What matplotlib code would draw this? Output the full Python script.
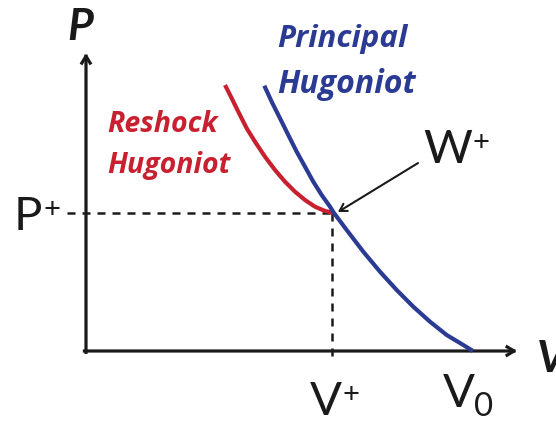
import matplotlib
matplotlib.use("Agg")
import matplotlib.pyplot as plt

# Hugoniot curves in normalised units (V / V0, P / P+)
principal_v = [0.4607, 0.4798, 0.5013, 0.5227, 0.5444, 0.5659, 0.5873, 0.6090,
               0.6305, 0.6408, 0.6736, 0.7165, 0.7597, 0.8028, 0.8457, 0.8889,
               0.9320, 0.9749, 1.0000]
principal_p = [1.9225, 1.8065, 1.6862, 1.5652, 1.4442, 1.3355, 1.2268, 1.1304,
               1.0457, 1.0000, 0.8768, 0.7196, 0.5746, 0.4420, 0.3210, 0.2123,
               0.1159, 0.0435, 0.0000]

reshock_v = [0.3592, 0.3765, 0.3935, 0.4152, 0.4367, 0.4625, 0.4884, 0.5142,
             0.5401, 0.5659, 0.5917, 0.6176, 0.6408]
reshock_p = [1.9275, 1.8312, 1.7341, 1.6138, 1.5167, 1.4080, 1.3116, 1.2268,
             1.1543, 1.0942, 1.0457, 1.0145, 1.0000]

# state W+ where the reshock starts
v_plus = 0.6408
p_plus = 1.000
v_zero = 1.000

BLUE = "#2B3A93"
RED = "#C8202F"
INK = "#1A1A1A"
FONT = "Lato"
NAME_FONT = "Open Sans"

fig = plt.figure(figsize=(5.56, 4.23), dpi=100)
ax = fig.add_axes([0, 0, 1, 1])
ax.set_xlim(-86 / 387, 470 / 387)
ax.set_ylim(-72 / 138, 351 / 138)
ax.axis("off")

# axes with open arrowheads
axis_arrow = dict(arrowstyle="->,head_length=0.5,head_width=0.3", lw=2.3,
                  color=INK, shrinkA=0, shrinkB=0, capstyle="projecting")
ax.annotate("", xy=(0, 2.159), xytext=(0, -0.01), arrowprops=axis_arrow,
            annotation_clip=False)
ax.annotate("", xy=(1.114, 0), xytext=(-0.004, 0), arrowprops=axis_arrow,
            annotation_clip=False)

# guide lines to P+ and V+
ax.plot([-0.049, v_plus], [p_plus, p_plus], color=INK, lw=1.8,
        dashes=(3.2, 2.8), zorder=1)
ax.plot([v_plus - 0.004, v_plus - 0.004], [p_plus, -0.04], color=INK, lw=1.8,
        dashes=(3.2, 2.8), zorder=1)

# curves
ax.plot(reshock_v, reshock_p, color=RED, lw=3.0, solid_capstyle="butt",
        solid_joinstyle="round", zorder=3)
ax.plot(principal_v, principal_p, color=BLUE, lw=3.0, solid_capstyle="butt",
        solid_joinstyle="round", zorder=4)

# pointer to W+
ax.annotate("", xy=(0.651, 1.007), xytext=(0.858, 1.362),
            arrowprops=dict(arrowstyle="->,head_length=0.5,head_width=0.3",
                            lw=1.5, color=INK, shrinkA=0, shrinkB=0),
            zorder=5)


def label(x, y, main, sup=None, sub=None, size=34):
    t = ax.text(x, y, main, fontsize=size, family=FONT, color=INK,
                ha="left", va="baseline")
    if sup:
        ax.annotate(sup, xy=(1.0, 1.0), xycoords=t, xytext=(0.5, -1),
                    textcoords="offset points", fontsize=size * 0.62,
                    family=FONT, color=INK, ha="left", va="top")
    if sub:
        ax.annotate(sub, xy=(1.0, 0.0), xycoords=t, xytext=(-0.5, -5),
                    textcoords="offset points", fontsize=size * 0.70,
                    family=FONT, color=INK, ha="left", va="bottom")
    return t


label(-0.186, 0.877, "P", sup="+")
label(0.579, -0.464, "V", sup="+")
label(0.922, -0.406, "V", sub="0")
label(0.871, 1.362, "W", sup="+")

# axis titles
ax.text(-0.049, 2.254, "P", fontsize=32, family=FONT, weight="bold",
        style="italic", color=INK, ha="left", va="baseline")
ax.text(1.165, -0.152, "V", fontsize=32, family=FONT, weight="bold",
        style="italic", color=INK, ha="left", va="baseline")

# curve names
ax.text(0.494, 2.200, "Principal", fontsize=22.5, family=NAME_FONT, weight="bold",
        style="italic", color=BLUE, ha="left", va="baseline")
ax.text(0.494, 1.870, "Hugoniot", fontsize=23, family=NAME_FONT, weight="bold",
        style="italic", color=BLUE, ha="left", va="baseline")
ax.text(0.054, 1.587, "Reshock", fontsize=20.5, family=NAME_FONT, weight="bold",
        style="italic", color=RED, ha="left", va="baseline")
ax.text(0.054, 1.290, "Hugoniot", fontsize=20.5, family=NAME_FONT, weight="bold",
        style="italic", color=RED, ha="left", va="baseline")

fig.savefig("out.png", dpi=100)
